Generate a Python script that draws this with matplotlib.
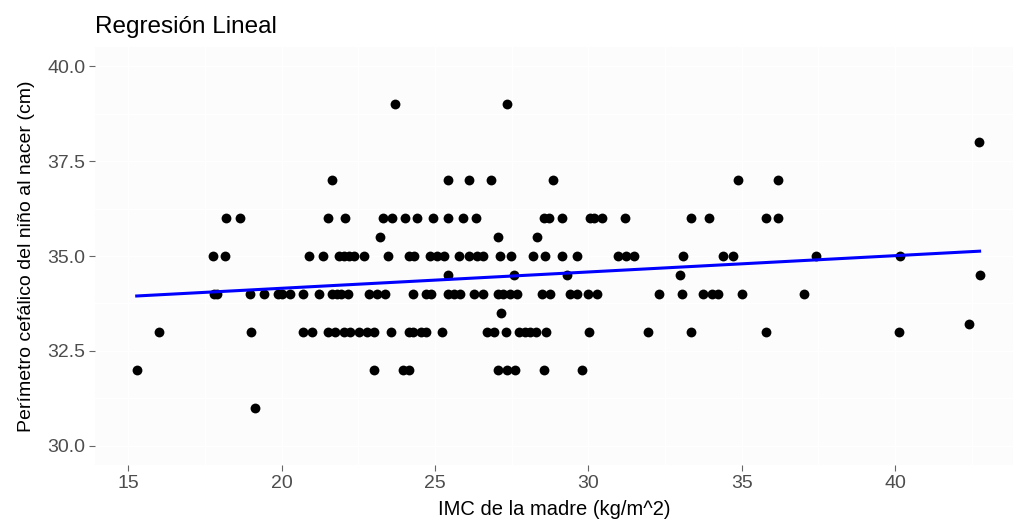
import numpy as np
import matplotlib
matplotlib.use("Agg")
import matplotlib.pyplot as plt

# IMC de la madre (x) agrupado por perímetro cefálico (y)
imc_39 = [23.70, 27.34]
imc_38 = [42.72]
imc_37 = [21.64, 25.41, 26.11, 26.83, 28.86, 34.89, 36.19]
imc_36 = [18.19, 18.63, 21.51, 22.08, 23.32, 23.59, 24.03, 24.41, 24.92, 25.41,
          25.91, 26.33, 28.54, 28.73, 29.13, 30.06, 30.19, 30.46, 31.18, 33.35,
          33.92, 35.78, 36.19]
imc_355 = [23.21, 27.05, 28.32]
imc_35 = [17.78, 18.16, 20.88, 21.35, 21.86, 22.02, 22.19, 22.35, 22.70, 23.48,
          24.17, 24.32, 24.84, 25.06, 25.28, 25.77, 26.11, 26.38, 26.58, 27.12,
          27.47, 28.18, 28.59, 29.13, 29.64, 30.96, 31.22, 31.49, 33.10, 34.40,
          34.70, 37.42, 40.14]
imc_345 = [25.44, 27.56, 29.30, 32.97, 42.75]
imc_34 = [17.80, 17.91, 18.98, 19.43, 19.87, 20.01, 20.28, 20.71, 21.21, 21.64,
          21.80, 21.93, 22.16, 22.86, 23.11, 23.37, 24.28, 24.71, 24.87, 25.44,
          25.63, 25.82, 26.26, 26.58, 27.04, 27.23, 27.45, 27.69, 28.50, 28.75,
          29.40, 29.64, 30.00, 30.29, 32.31, 33.04, 33.75, 34.02, 34.24, 35.00,
          37.04]
imc_335 = [27.16]
imc_332 = [42.42]
imc_33 = [15.99, 19.01, 20.69, 20.99, 21.50, 21.75, 22.02, 22.24, 22.51, 22.78,
          23.02, 23.57, 24.14, 24.28, 24.56, 24.70, 25.22, 26.69, 26.91, 27.32,
          27.75, 27.94, 28.10, 28.28, 28.62, 30.03, 31.93, 33.35, 35.80, 40.11]
imc_32 = [15.28, 23.02, 23.97, 24.14, 27.07, 27.34, 27.61, 28.54, 29.79]
imc_31 = [19.14]

groups = [(39, imc_39), (38, imc_38), (37, imc_37), (36, imc_36), (35.5, imc_355),
          (35, imc_35), (34.5, imc_345), (34, imc_34), (33.5, imc_335),
          (33.2, imc_332), (33, imc_33), (32, imc_32), (31, imc_31)]

x = np.concatenate([g[1] for g in groups])
y = np.concatenate([[g[0]] * len(g[1]) for g in groups])

# recta de regresión (lm)
b, a = np.polyfit(x, y, 1)
xs = np.array([x.min(), x.max()])

plt.rcParams['font.family'] = ['Liberation Sans', 'DejaVu Sans']

fig = plt.figure(figsize=(10.17, 5.23), dpi=100)
ax = fig.add_axes([0.0934, 0.111, 0.903, 0.799])
ax.set_facecolor('#FCFCFC')
for s in ax.spines.values():
    s.set_visible(False)

ax.scatter(x, y, s=50, color='black', zorder=3, linewidths=0)
ax.plot(xs, a + b * xs, color='#0000FF', lw=2.2, zorder=4)

ax.set_xlim(13.92, 43.85)
ax.set_ylim(29.5, 40.5)
ax.set_xticks([15, 20, 25, 30, 35, 40])
ax.set_yticks([30, 32.5, 35, 37.5, 40])
ax.set_yticklabels(['30.0', '32.5', '35.0', '37.5', '40.0'])
ax.set_xticks([17.5, 22.5, 27.5, 32.5, 37.5, 42.5], minor=True)
ax.set_yticks([31.25, 33.75, 36.25, 38.75], minor=True)
ax.grid(True, which='both', color='white', lw=1.0, zorder=0)
ax.set_axisbelow(True)
ax.tick_params(axis='both', which='major', colors='#666666', labelcolor='#4D4D4D',
               labelsize=14, length=4, width=0.8, pad=3)
ax.tick_params(axis='both', which='minor', length=0)

ax.set_xlabel('IMC de la madre (kg/m^2)', fontsize=14.5, color='black', labelpad=6)
ax.set_ylabel('Perímetro cefálico del niño al nacer (cm)', fontsize=14,
              color='black', labelpad=9)
ax.set_title('Regresión Lineal', loc='left', fontsize=17.5, pad=10, x=0.0)

fig.savefig('out.png', dpi=100, facecolor='white')
